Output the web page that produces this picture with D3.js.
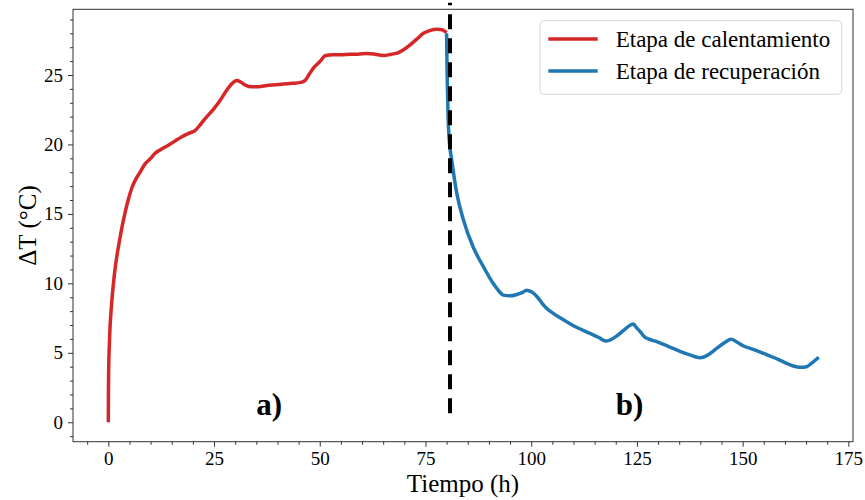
<!DOCTYPE html>
<html>
<head>
<meta charset="utf-8">
<script src="https://cdn.jsdelivr.net/npm/d3@7"></script>
<style>
  html, body { margin: 0; padding: 0; background: #fff; }
  svg { display: block; font-family: "Liberation Serif", "Times New Roman", serif; }
</style>
</head>
<body>
<svg id="chart" width="865" height="500"></svg>
<script>
// ---- Data ----
const seriesNames = ["Etapa de calentamiento", "Etapa de recuperación"];
const seriesColors = ["#d62728", "#1f77b4"];

const heatTime = [0, 0.03, 0.1, 0.24, 0.4, 0.6, 0.85, 1.15, 1.5, 2.0, 2.6, 3.2, 3.9, 4.7, 5.6, 6.5, 7.5, 8.7, 10.0, 11.0, 12.5, 14.2, 15.8, 17.4, 19.0, 20.5, 21.7, 23.0, 24.8, 26.5, 28.0, 29.5, 30.4, 31.3, 32.5, 34.0, 35.5, 37.5, 39.5, 41.4, 43.5, 45.3, 46.5, 47.5, 48.5, 50.0, 51.4, 53.2, 55.0, 57.2, 59.0, 61.1, 63.0, 65.0, 67.0, 68.5, 70.0, 71.3, 73.0, 74.5, 76.0, 77.7, 79.0, 80.0];
const heatDT   = [0, 2.0, 4.0, 5.5, 6.8, 7.8, 8.8, 9.8, 10.8, 11.9, 13.0, 14.0, 15.0, 16.0, 16.9, 17.5, 18.0, 18.6, 19.0, 19.35, 19.65, 19.95, 20.25, 20.55, 20.8, 21.0, 21.4, 21.9, 22.5, 23.2, 23.9, 24.45, 24.6, 24.5, 24.25, 24.15, 24.15, 24.25, 24.3, 24.35, 24.4, 24.45, 24.6, 25.05, 25.5, 25.95, 26.4, 26.45, 26.45, 26.5, 26.5, 26.55, 26.5, 26.4, 26.5, 26.6, 26.85, 27.15, 27.6, 28.0, 28.2, 28.3, 28.25, 28.05];

const recTime = [80.0, 80.1, 80.2, 80.35, 80.6, 81.2, 82.4, 84.0, 86.3, 88.7, 91.0, 92.5, 93.4, 95.0, 96.6, 98.0, 98.9, 99.6, 100.3, 101.5, 102.5, 103.5, 105.2, 107.5, 110.0, 113.9, 116.0, 117.6, 118.5, 120.2, 122.0, 123.5, 124.2, 124.8, 125.7, 126.8, 127.7, 129.7, 132.5, 135.2, 137.5, 139.9, 140.8, 142.3, 144.0, 145.8, 147.3, 148.5, 150.2, 152.5, 155.0, 157.2, 160.0, 162.0, 163.6, 165.1, 166.5, 168.0];
const recDT    = [28.0, 25.5, 24.0, 22.0, 20.4, 18.9, 16.5, 14.55, 12.6, 11.2, 10.0, 9.4, 9.15, 9.1, 9.2, 9.35, 9.5, 9.45, 9.35, 9.0, 8.6, 8.25, 7.84, 7.4, 6.95, 6.4, 6.1, 5.85, 5.9, 6.2, 6.65, 7.0, 7.07, 6.85, 6.55, 6.15, 6.0, 5.8, 5.45, 5.1, 4.85, 4.65, 4.7, 4.95, 5.35, 5.75, 5.97, 5.8, 5.49, 5.25, 4.95, 4.68, 4.3, 4.05, 3.96, 4.0, 4.3, 4.68];

const xTicks = [0, 25, 50, 75, 100, 125, 150, 175];
const yTicks = [0, 5, 10, 15, 20, 25];
const xMinorTicks = d3.range(-5, 176, 5).filter(v => v % 25 !== 0);
const yMinorTicks = d3.range(-1, 30, 1).filter(v => v % 5 !== 0);

const xLabel = "Tiempo (h)";
const yLabel = "ΔT (°C)";
const stageLine = 80.8;
const panelLabels = [{text: "a)", t: 35, v: 0.5}, {text: "b)", t: 120, v: 0.5}];

// ---- Layout ----
const plot = {left: 73, top: 9.3, right: 853, bottom: 441.7};
const svg = d3.select("#chart");

const x = d3.scaleLinear().domain([-8.35, 176.1]).range([plot.left, plot.right]);
const y = d3.scaleLinear().domain([-1.40, 29.73]).range([plot.bottom, plot.top]);

const fontFam = '"Liberation Serif", "Times New Roman", serif';

// Lines
const line = d3.line().x(d => x(d[0])).y(d => y(d[1])).curve(d3.curveMonotoneX);
const heat = heatTime.map((t, i) => [t, heatDT[i]]);
const rec = recTime.map((t, i) => [t, recDT[i]]);

svg.append("path").datum(heat)
  .attr("d", line).attr("fill", "none")
  .attr("stroke", seriesColors[0]).attr("stroke-width", 3.5)
  .attr("stroke-linejoin", "round").attr("stroke-linecap", "butt");
svg.append("path").datum(rec)
  .attr("d", line).attr("fill", "none")
  .attr("stroke", seriesColors[1]).attr("stroke-width", 3.5)
  .attr("stroke-linejoin", "round").attr("stroke-linecap", "butt");

// Vertical dashed line (drawn bottom-up so it ends with a full dash at the bottom)
svg.append("line")
  .attr("x1", x(stageLine)).attr("x2", x(stageLine))
  .attr("y1", y(0.65)).attr("y2", y(30.2))
  .attr("stroke", "#000").attr("stroke-width", 4)
  .attr("stroke-dasharray", "15,9");

// Panel labels
svg.selectAll("text.panel").data(panelLabels).enter().append("text")
  .attr("class", "panel")
  .attr("x", d => x(d.t)).attr("y", d => y(d.v))
  .attr("font-family", fontFam).attr("font-size", 31).attr("font-weight", "bold")
  .text(d => d.text);

// Axes
const xAxis = d3.axisBottom(x).tickValues(xTicks).tickSize(5).tickPadding(5).tickFormat(d3.format("d"));
const gx = svg.append("g").attr("transform", `translate(0,${plot.bottom})`).call(xAxis);
gx.select(".domain").remove();
gx.selectAll("text").attr("font-family", fontFam).attr("font-size", 19).attr("fill", "#000");
gx.selectAll("line").attr("stroke", "#333");

const xMinor = d3.axisBottom(x).tickValues(xMinorTicks).tickSize(3).tickFormat("");
const gxm = svg.append("g").attr("transform", `translate(0,${plot.bottom})`).call(xMinor);
gxm.select(".domain").remove();
gxm.selectAll("line").attr("stroke", "#333");

const yAxis = d3.axisLeft(y).tickValues(yTicks).tickSize(5).tickPadding(5).tickFormat(d3.format("d"));
const gy = svg.append("g").attr("transform", `translate(${plot.left},0)`).call(yAxis);
gy.select(".domain").remove();
gy.selectAll("text").attr("font-family", fontFam).attr("font-size", 19).attr("fill", "#000");
gy.selectAll("line").attr("stroke", "#333");

const yMinor = d3.axisLeft(y).tickValues(yMinorTicks).tickSize(3).tickFormat("");
const gym = svg.append("g").attr("transform", `translate(${plot.left},0)`).call(yMinor);
gym.select(".domain").remove();
gym.selectAll("line").attr("stroke", "#333");

// Frame
svg.append("rect")
  .attr("x", plot.left).attr("y", plot.top)
  .attr("width", plot.right - plot.left).attr("height", plot.bottom - plot.top)
  .attr("fill", "none").attr("stroke", "#333").attr("stroke-width", 1);

// Axis labels
svg.append("text")
  .attr("x", (plot.left + plot.right) / 2).attr("y", 491.5)
  .attr("text-anchor", "middle")
  .attr("font-family", fontFam).attr("font-size", 25)
  .text(xLabel);

svg.append("text")
  .attr("transform", `translate(36,${(plot.top + plot.bottom) / 2}) rotate(-90)`)
  .attr("text-anchor", "middle")
  .attr("font-family", fontFam).attr("font-size", 25)
  .text(yLabel);

// Legend
const lg = svg.append("g");
lg.append("rect")
  .attr("x", 540).attr("y", 20.7).attr("width", 301.7).attr("height", 73.6)
  .attr("rx", 4).attr("ry", 4)
  .attr("fill", "#fff").attr("fill-opacity", 0.8)
  .attr("stroke", "#d6d6d6").attr("stroke-width", 1);
seriesNames.forEach((name, i) => {
  const cy = 39 + i * 32;
  lg.append("line")
    .attr("x1", 548.3).attr("x2", 597.7).attr("y1", cy).attr("y2", cy)
    .attr("stroke", seriesColors[i]).attr("stroke-width", 3.5);
  lg.append("text")
    .attr("x", 615.7).attr("y", cy + 7.8)
    .attr("font-family", fontFam).attr("font-size", 23)
    .text(name);
});
</script>
</body>
</html>
